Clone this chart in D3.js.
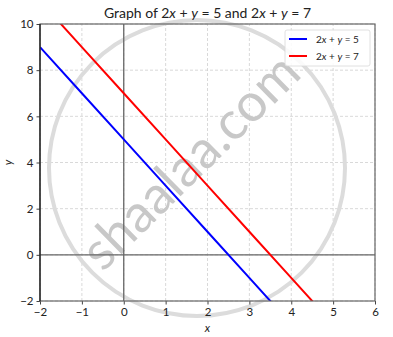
<!DOCTYPE html>
<html>
<head>
<meta charset="utf-8">
<script src="https://cdn.jsdelivr.net/npm/d3@7"></script>
<style>
  body { margin: 0; background: #fff; }
  svg { display: block; font-family: Lato, "Open Sans", sans-serif; }
</style>
</head>
<body>
<div class="chart"></div>
<script>
// line data, x positions and the y value of each line there
var xValues = [-2, -1, 0, 1, 2, 3, 4, 5, 6];
var line1Values = [9, 7, 5, 3, 1, -1, -3, -5, -7];   // 2x + y = 5
var line2Values = [11, 9, 7, 5, 3, 1, -1, -3, -5];   // 2x + y = 7
var xTicks = [-2, -1, 0, 1, 2, 3, 4, 5, 6];
var yTicks = [-2, 0, 2, 4, 6, 8, 10];
var seriesNames = ["2x + y = 5", "2x + y = 7"];
var seriesColors = ["#0000ff", "#ff0000"];

var width = 393,
    height = 337,
    margin = { top: 24, right: 18, bottom: 36, left: 40 };

var svg = d3.select(".chart").append("svg")
    .attr("width", width)
    .attr("height", height);

var x = d3.scaleLinear().domain([-2, 6]).range([margin.left, width - margin.right]);
var y = d3.scaleLinear().domain([-2, 10]).range([height - margin.bottom, margin.top]);

svg.append("defs").append("clipPath").attr("id", "plotclip")
  .append("rect")
    .attr("x", x(-2)).attr("y", y(10))
    .attr("width", x(6) - x(-2)).attr("height", y(-2) - y(10));

// grid
var grid = svg.append("g");
grid.selectAll("line.vx").data(xTicks).enter().append("line")
    .attr("x1", function (d) { return x(d); })
    .attr("x2", function (d) { return x(d); })
    .attr("y1", y(-2)).attr("y2", y(10))
    .attr("stroke", "#cfcfcf").attr("stroke-width", 0.8).attr("stroke-dasharray", "3,2");
grid.selectAll("line.hy").data(yTicks).enter().append("line")
    .attr("y1", function (d) { return y(d); })
    .attr("y2", function (d) { return y(d); })
    .attr("x1", x(-2)).attr("x2", x(6))
    .attr("stroke", "#cfcfcf").attr("stroke-width", 0.8).attr("stroke-dasharray", "3,2");

// watermark
svg.append("circle")
    .attr("cx", 197).attr("cy", 168).attr("r", 148)
    .attr("fill", "none").attr("stroke", "#dcdcdc").attr("stroke-width", 4);
svg.append("text")
    .attr("transform", "translate(190,161) rotate(-44.5)")
    .attr("text-anchor", "middle").attr("dy", "0.35em")
    .attr("font-size", 53).attr("fill", "#c8c8c8")
    .text("shaalaa.com");

// zero lines
svg.append("line")
    .attr("x1", x(0)).attr("x2", x(0)).attr("y1", y(-2)).attr("y2", y(10))
    .attr("stroke", "#666").attr("stroke-width", 1.3);
svg.append("line")
    .attr("x1", x(-2)).attr("x2", x(6)).attr("y1", y(0)).attr("y2", y(0))
    .attr("stroke", "#666").attr("stroke-width", 1.3);

// lines
var lineGen = d3.line()
    .x(function (d) { return x(d[0]); })
    .y(function (d) { return y(d[1]); });

[line1Values, line2Values].forEach(function (vals, i) {
    svg.append("path")
        .datum(d3.zip(xValues, vals))
        .attr("clip-path", "url(#plotclip)")
        .attr("fill", "none")
        .attr("stroke", seriesColors[i])
        .attr("stroke-width", 2)
        .attr("d", lineGen);
});

// axes
var xAxis = svg.append("g")
    .attr("transform", "translate(0," + y(-2) + ")")
    .call(d3.axisBottom(x).tickValues(xTicks).tickSize(3.5).tickPadding(3)
        .tickFormat(function (d) { return d < 0 ? "\u2212" + Math.abs(d) : d; }));
var yAxis = svg.append("g")
    .attr("transform", "translate(" + x(-2) + ",0)")
    .call(d3.axisLeft(y).tickValues(yTicks).tickSize(3.5).tickPadding(3)
        .tickFormat(function (d) { return d < 0 ? "\u2212" + Math.abs(d) : d; }));
[xAxis, yAxis].forEach(function (a) {
    a.select(".domain").remove();
    a.selectAll("line").attr("stroke", "#444");
    a.selectAll("text").attr("font-size", 11.5).attr("fill", "#222").attr("font-family", "Lato, sans-serif");
});

// frame
svg.append("rect")
    .attr("x", x(-2)).attr("y", y(10))
    .attr("width", x(6) - x(-2)).attr("height", y(-2) - y(10))
    .attr("fill", "none").attr("stroke", "#666").attr("stroke-width", 1.2);
svg.append("line")
    .attr("x1", x(-2)).attr("x2", x(-2)).attr("y1", y(-2)).attr("y2", y(10))
    .attr("stroke", "#111").attr("stroke-width", 1.2);

// title
var title = svg.append("text")
    .attr("x", (x(-2) + x(6)) / 2).attr("y", 18)
    .attr("text-anchor", "middle").attr("font-size", 14).attr("fill", "#222");
title.append("tspan").text("Graph of 2");
title.append("tspan").attr("font-style", "italic").text("x");
title.append("tspan").text(" + ");
title.append("tspan").attr("font-style", "italic").text("y");
title.append("tspan").text(" = 5 and 2");
title.append("tspan").attr("font-style", "italic").text("x");
title.append("tspan").text(" + ");
title.append("tspan").attr("font-style", "italic").text("y");
title.append("tspan").text(" = 7");

// axis labels
svg.append("text")
    .attr("x", (x(-2) + x(6)) / 2).attr("y", 332)
    .attr("text-anchor", "middle").attr("font-size", 11.5).attr("font-style", "italic").attr("fill", "#222")
    .text("x");
svg.append("text")
    .attr("transform", "translate(12," + ((y(-2) + y(10)) / 2) + ") rotate(-90)")
    .attr("text-anchor", "middle").attr("font-size", 11.5).attr("font-style", "italic").attr("fill", "#222")
    .text("y");

// legend
var legend = svg.append("g").attr("transform", "translate(285,30)");
legend.append("rect")
    .attr("width", 85).attr("height", 36).attr("rx", 2)
    .attr("fill", "#fff").attr("fill-opacity", 0.85)
    .attr("stroke", "#d8d8d8").attr("stroke-width", 0.8);
seriesNames.forEach(function (name, i) {
    var row = legend.append("g").attr("transform", "translate(0," + (9 + i * 17) + ")");
    row.append("line")
        .attr("x1", 4).attr("x2", 22)
        .attr("stroke", seriesColors[i]).attr("stroke-width", 2);
    var t = row.append("text").attr("x", 31).attr("dy", "0.35em")
        .attr("font-size", 10).attr("fill", "#222");
    var parts = name.split(/([xy])/);
    parts.forEach(function (p) {
        if (p === "x" || p === "y") t.append("tspan").attr("font-style", "italic").text(p);
        else if (p) t.append("tspan").text(p);
    });
});
</script>
</body>
</html>
